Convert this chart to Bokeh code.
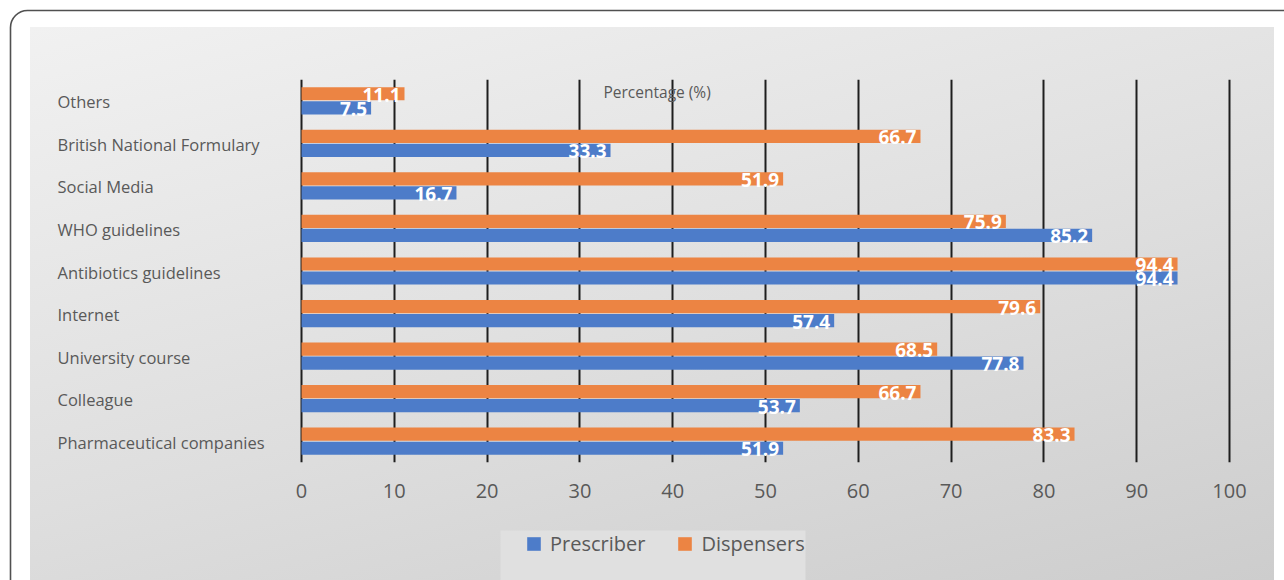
from bokeh.plotting import figure
from bokeh.layouts import column
from bokeh.models import (FactorRange, Range1d, FixedTicker, Legend, LegendItem,
                          ColumnDataSource, BoxAnnotation)
from bokeh.transform import dodge
from bokeh.core.properties import value
from bokeh.embed import file_html
from bokeh.resources import INLINE

# ---------------- data ----------------
categories = ["Others", "British National Formulary", "Social Media", "WHO guidelines",
              "Antibiotics guidelines", "Internet", "University course", "Colleague",
              "Pharmaceutical companies"]
prescriber = [7.5, 33.3, 16.7, 85.2, 94.4, 57.4, 77.8, 53.7, 51.9]
dispensers = [11.1, 66.7, 51.9, 75.9, 94.4, 79.6, 68.5, 66.7, 83.3]
x_ticks = [0, 10, 20, 30, 40, 50, 60, 70, 80, 90, 100]
series_names = ["Prescriber", "Dispensers"]
axis_title = "Percentage (%)"

# ---------------- styles ----------------
BLUE = "#4d7cc9"
ORANGE = "#ec8443"
GRAY_TXT = "#595959"
FONT = value("Open Sans")

W, H = 1284, 580
H1 = 510                                 # main figure height, legend strip below
FL, FR, FT, FB = 30, 1274, 79, 462      # frame box in px
X0PX, PXU = 301, 9.28                   # px of value 0, px per unit

src = ColumnDataSource(dict(
    cat=categories,
    pres=prescriber,
    disp=dispensers,
    pres_lbl=[str(v) for v in prescriber],
    disp_lbl=[str(v) for v in dispensers],
    zero=[0] * len(categories),
))

p = figure(width=W, height=H1, output_backend="svg", toolbar_location=None,
           x_range=Range1d(-(X0PX - FL) / PXU, (FR - X0PX) / PXU),
           y_range=FactorRange(factors=categories[::-1], range_padding=0),
           min_border_left=FL, min_border_right=W - FR,
           min_border_top=FT, min_border_bottom=H1 - FB)
p.background_fill_color = None
p.border_fill_color = None
p.outline_line_color = None

off = 0.165
hh = 0.31
ro = p.hbar(y=dodge("cat", off, range=p.y_range), left="zero", right="disp", height=hh,
            source=src, fill_color=ORANGE, line_color=None)
rb = p.hbar(y=dodge("cat", -off, range=p.y_range), left="zero", right="pres", height=hh,
            source=src, fill_color=BLUE, line_color=None)

# value labels
p.text(x="disp", y=dodge("cat", off, range=p.y_range), text="disp_lbl", source=src,
       text_align="right", text_baseline="middle", x_offset=-4, y_offset=1,
       text_color="white", text_font=FONT, text_font_size="19px", text_font_style="bold")
p.text(x="pres", y=dodge("cat", -off, range=p.y_range), text="pres_lbl", source=src,
       text_align="right", text_baseline="middle", x_offset=-4, y_offset=1,
       text_color="white", text_font=FONT, text_font_size="19px", text_font_style="bold")

# category labels (left aligned, like the original)
p.text(x=p.x_range.start, y="cat", text="cat", source=src, x_offset=27, y_offset=1,
       text_align="left", text_baseline="middle", text_color=GRAY_TXT,
       text_font=FONT, text_font_size="16.5px")

# axis title inside plot
p.text(x=[(603 - X0PX) / PXU], y=[categories[0]], text=[axis_title], y_offset=-9,
       text_align="left", text_baseline="middle", text_color=GRAY_TXT,
       text_font=FONT, text_font_size="15.5px")

# axes / grid
p.yaxis.visible = False
p.ygrid.grid_line_color = None
p.xaxis.ticker = FixedTicker(ticks=x_ticks)
p.xaxis.axis_line_color = None
p.xaxis.major_tick_line_color = None
p.xaxis.minor_tick_line_color = None
p.xaxis.major_label_standoff = 15
p.xaxis.major_label_text_font = "Open Sans"
p.xaxis.major_label_text_font_size = "20px"
p.xaxis.major_label_text_color = GRAY_TXT
p.xgrid.grid_line_color = "#1e1e1e"
p.xgrid.grid_line_width = 2

# ---------------- legend strip (coordinates = pixels of the strip) ----------------
H2 = H - H1
p2 = figure(width=W, height=H2, output_backend="svg", toolbar_location=None,
            x_range=Range1d(0, FR - FL), y_range=Range1d(0, H2),
            min_border_left=FL, min_border_right=W - FR, min_border_top=0,
            min_border_bottom=0)
p2.background_fill_color = None
p2.border_fill_color = None
p2.outline_line_color = None
p2.axis.visible = False
p2.grid.visible = False

# legend box
p2.add_layout(BoxAnnotation(left=500 - FL, right=805 - FL, bottom=0, top=H - 530,
                            fill_color="#e0e0e0", fill_alpha=1, line_color=None))

# dummy renderers (outside the visible range) that carry the legend swatches
lb = p2.hbar(y=[-50], left=[-50], right=[-40], height=1, fill_color=BLUE, line_color=None)
lo = p2.hbar(y=[-50], left=[-50], right=[-40], height=1, fill_color=ORANGE, line_color=None)

legend = Legend(items=[LegendItem(label=series_names[0], renderers=[lb]),
                       LegendItem(label=series_names[1], renderers=[lo])],
                orientation="horizontal", location=(525 - FL, 23),
                background_fill_alpha=0, border_line_color=None,
                glyph_width=17, glyph_height=17,
                label_text_font="Open Sans", label_text_font_size="20px",
                label_text_color=GRAY_TXT, label_standoff=8, spacing=31,
                padding=5, margin=0)
p2.add_layout(legend, "center")

svg_border = ("url(\"data:image/svg+xml,%3Csvg xmlns='http://www.w3.org/2000/svg' "
              "width='1284' height='580'%3E%3Crect x='10.5' y='10.5' width='1400' "
              "height='800' rx='17' fill='none' stroke='%23505050' stroke-width='1.6'/%3E%3C/svg%3E\")"
              " 0 0 / 1284px 580px no-repeat")
page = column(p, p2, width=W, height=H, spacing=0)
page.styles = {
    "background": svg_border + ", linear-gradient(165deg, #f1f1f1 0%, #dedede 55%, #cdcdcd 100%)"
                  " 30px 27px / 1244px 553px no-repeat, #ffffff"
}

open("out.html", "w").write(file_html(page, INLINE))
